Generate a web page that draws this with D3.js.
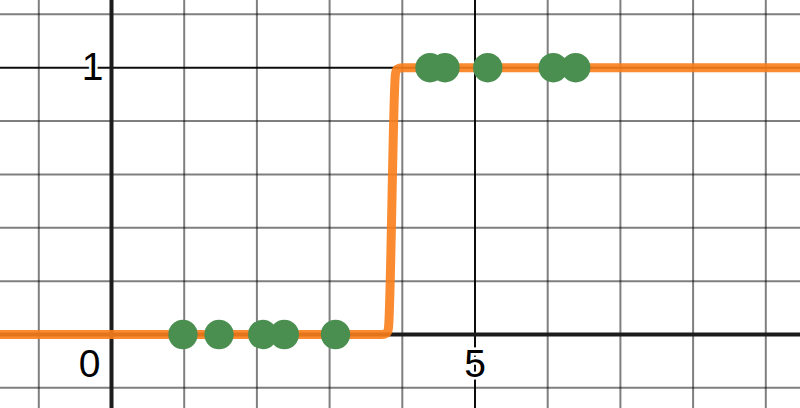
<!DOCTYPE html>
<html>
<head>
<meta charset="utf-8">
<script src="https://cdn.jsdelivr.net/npm/d3@7"></script>
<style>
  html, body { margin: 0; padding: 0; background: #fff; }
  svg { display: block; }
</style>
</head>
<body>
<svg id="chart" width="800" height="408"></svg>
<script>
// ---- data ----
const xDomain = [-1.5337, 9.4704];
const yDomain = [-0.2755, 1.2537];
const xMinorTicks = [-1, 1, 2, 3, 4, 6, 7, 8, 9];
const xMajorTicks = [5];
const yMinorTicks = [-0.2, 0.2, 0.4, 0.6, 0.8, 1.2];
const yMajorTicks = [1];
const xTickLabels = [{ v: 5, t: "5" }];
const yTickLabels = [{ v: 1, t: "1" }];
const originLabel = "0";

const curveX = [-1.7, 3.72, 3.79, 3.81, 3.905, 3.925, 4.0, 9.6];
const curveY = [0, 0, 0.006, 0.025, 0.975, 0.994, 1, 1];

// observed points
const pointsX = [0.983, 1.479, 2.080, 2.377, 3.081, 4.381, 4.587, 5.175, 6.077, 6.385];
const pointsY = [0, 0, 0, 0, 0, 1, 1, 1, 1, 1];

// ---- drawing ----
const W = 800, H = 408;
const svg = d3.select("#chart");
const x = d3.scaleLinear().domain(xDomain).range([0, W]);
const y = d3.scaleLinear().domain(yDomain).range([H, 0]);

const grid = svg.append("g");
// minor grid
grid.selectAll("line.vminor").data(xMinorTicks).join("line")
  .attr("x1", d => x(d)).attr("x2", d => x(d)).attr("y1", 0).attr("y2", H)
  .attr("stroke", "#000").attr("stroke-opacity", 0.5).attr("stroke-width", 2);
grid.selectAll("line.hminor").data(yMinorTicks).join("line")
  .attr("y1", d => y(d)).attr("y2", d => y(d)).attr("x1", 0).attr("x2", W)
  .attr("stroke", "#000").attr("stroke-opacity", 0.5).attr("stroke-width", 2);
// major grid
grid.selectAll("line.vmajor").data(xMajorTicks).join("line")
  .attr("x1", d => x(d)).attr("x2", d => x(d)).attr("y1", 0).attr("y2", H)
  .attr("stroke", "#000").attr("stroke-opacity", 0.95).attr("stroke-width", 2);
grid.selectAll("line.hmajor").data(yMajorTicks).join("line")
  .attr("y1", d => y(d)).attr("y2", d => y(d)).attr("x1", 0).attr("x2", W)
  .attr("stroke", "#000").attr("stroke-opacity", 0.95).attr("stroke-width", 2);
// axes
grid.append("line").attr("x1", x(0)).attr("x2", x(0)).attr("y1", 0).attr("y2", H)
  .attr("stroke", "#1c1c1c").attr("stroke-width", 4);
grid.append("line").attr("y1", y(0)).attr("y2", y(0)).attr("x1", 0).attr("x2", W)
  .attr("stroke", "#1c1c1c").attr("stroke-width", 4);

// labels
const labels = svg.append("g")
  .attr("font-family", "'Liberation Sans', Arial, sans-serif")
  .attr("font-size", 39)
  .attr("fill", "#000")
  .attr("stroke", "#fff").attr("stroke-width", 5)
  .attr("paint-order", "stroke")
  .attr("stroke-linejoin", "round");
labels.selectAll("text.xl").data(xTickLabels).join("text")
  .attr("x", d => x(d.v)).attr("y", y(0) + 42.5)
  .attr("text-anchor", "middle").text(d => d.t);
labels.selectAll("text.yl").data(yTickLabels).join("text")
  .attr("x", x(0) - 8).attr("y", d => y(d.v) + 12.5)
  .attr("text-anchor", "end").text(d => d.t);
labels.append("text")
  .attr("x", x(0) - 11).attr("y", y(0) + 42.5)
  .attr("text-anchor", "end").text(originLabel);

// curve
const curvePts = curveX.map((v, i) => [v, curveY[i]]);
const line = d3.line().x(d => x(d[0])).y(d => y(d[1])).curve(d3.curveMonotoneX);
svg.append("path").datum(curvePts)
  .attr("d", line)
  .attr("fill", "none")
  .attr("stroke", "#fa7e19")
  .attr("stroke-opacity", 0.9)
  .attr("stroke-width", 9)
  .attr("stroke-linejoin", "round")
  .attr("stroke-linecap", "round");

// points
svg.append("g").selectAll("circle").data(pointsX.map((v, i) => [v, pointsY[i]])).join("circle")
  .attr("cx", d => x(d[0])).attr("cy", d => y(d[1])).attr("r", 14.7)
  .attr("fill", "#4a8f50");
</script>
</body>
</html>
